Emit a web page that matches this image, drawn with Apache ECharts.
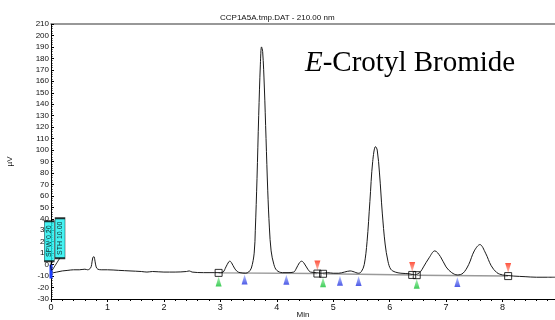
<!DOCTYPE html>
<html>
<head>
<meta charset="utf-8">
<script src="https://cdn.jsdelivr.net/npm/echarts@6/dist/echarts.min.js"></script>
<style>html,body{margin:0;padding:0;background:#fff}#c{width:555px;height:320px}</style>
</head>
<body>
<div id="c"></div>
<script>
// ---- data ----
var traceTime  = [0.00,0.05,0.10,0.20,0.30,0.40,0.50,0.60,0.65,0.70,0.72,0.74,0.76,0.78,0.80,0.83,0.90,1.00,1.20,1.40,1.60,1.70,1.80,2.00,2.20,2.40,2.45,2.50,2.70,2.90,3.00,3.05,3.10,3.15,3.17,3.20,3.25,3.30,3.35,3.45,3.50,3.55,3.60,3.62,3.65,3.68,3.71,3.73,3.75,3.78,3.81,3.84,3.87,3.90,3.95,4.00,4.10,4.20,4.30,4.35,4.40,4.44,4.48,4.55,4.60,4.70,4.80,4.90,5.00,5.10,5.20,5.30,5.35,5.45,5.50,5.55,5.60,5.65,5.70,5.75,5.78,5.82,5.87,5.92,5.97,6.02,6.10,6.20,6.35,6.45,6.50,6.55,6.60,6.70,6.80,6.90,7.00,7.10,7.20,7.30,7.40,7.50,7.60,7.70,7.80,7.90,8.00,8.10,8.20,8.40,8.60,8.80,8.93];
var traceValue = [-7.5,-7,-6.5,-5.5,-5,-4.5,-4.5,-4,-4.5,-3,0,6,7,3,-2,-4,-4.5,-4.5,-5,-5.5,-6,-6.5,-6,-6.5,-6.5,-6,-5.5,-6.5,-7,-7,-7,-6.5,-2,2.5,3,1.5,-3,-6,-7,-7.5,-6.5,-3,10,30,75,130,175,190,186,155,110,65,32,12,0,-5,-7,-7,-6.5,-3,1.5,3,1.5,-4,-6.5,-7,-7.5,-7,-7.5,-7.5,-6.5,-5.5,-6,-7.5,-6,0,20,55,90,103,100,80,45,18,3,-4,-6.5,-7.5,-8,-9,-8,-6,-2,6,12,7,-2,-7,-9,-7.5,0,12,17.5,10,-1,-7,-9,-9.5,-10,-10.5,-11,-11,-11];

var baselinePts = [[2.97,-7.2],[4.72,-7.8],null,[4.82,-8.0],[6.40,-9.0],null,[6.48,-9.2],[8.10,-10.0]];
var squarePts   = [[2.97,-7.2],[4.72,-7.8],[4.82,-8.0],[6.40,-9.0],[6.48,-9.2],[8.10,-10.0]];
var greenPts    = [[2.97,-7.2],[4.82,-8.0],[6.48,-9.2]];
var bluePts     = [[3.43,-7.4],[4.17,-7.6],[5.12,-8.4],[5.45,-8.6],[7.20,-9.5]];
var redPts      = [[4.72,-7.8],[6.40,-9.0],[8.10,-10.0]];
var flagLabels  = ['SPW 0.20','STH 10.00'];
var flagPts     = [[-0.03,20.5],[0.16,23]];
var startBar    = [[0,0],[0,-12]];

var chart = echarts.init(document.getElementById('c'), null, {renderer:'canvas'});
var F = 'Liberation Sans, Arial, sans-serif';

function triGrad(a, b){
  return new echarts.graphic.LinearGradient(0,0,0,1,[{offset:0,color:a},{offset:1,color:b}]);
}

chart.setOption({
  animation:false,
  backgroundColor:'#fff',
  title:[
    {text:'CCP1A5A.tmp.DAT - 210.00 nm', left:220, top:14, padding:0,
     textStyle:{fontFamily:F,fontSize:8,fontWeight:'normal',color:'#111'}},
    {text:'{i|E}-Crotyl Bromide', left:305, top:49, padding:0,
     textStyle:{fontFamily:'Liberation Serif, Times New Roman, serif',fontSize:29,fontWeight:'normal',color:'#000',
       rich:{i:{fontFamily:'Liberation Serif, Times New Roman, serif',fontSize:29,fontStyle:'italic',color:'#000'}}}}
  ],
  grid:{left:51,right:0,top:24,bottom:21,outerBoundsMode:'none',containLabel:false},
  xAxis:[{
    type:'value', min:0, max:8.93, interval:1,
    name:'Min', nameLocation:'middle', nameGap:12, nameMoveOverlap:false,
    nameTextStyle:{fontFamily:F,fontSize:8,color:'#111'},
    axisLine:{show:true,onZero:false,lineStyle:{color:'#000',width:1}},
    axisTick:{show:true,length:3,lineStyle:{color:'#000'}},
    minorTick:{show:true,splitNumber:5,length:2,lineStyle:{color:'#000'}},
    axisLabel:{fontFamily:F,fontSize:9,color:'#111',margin:4,showMaxLabel:false},
    splitLine:{show:false}
  },{
    type:'value', position:'top', min:0, max:8.93,
    axisLine:{show:true,onZero:false,lineStyle:{color:'#777',width:1.5}},
    axisTick:{show:false}, axisLabel:{show:false}, splitLine:{show:false}
  }],
  yAxis:{
    type:'value', min:-30, max:210, interval:10,
    name:'µV', nameLocation:'middle', nameGap:37, nameRotate:90, nameMoveOverlap:false,
    nameTextStyle:{fontFamily:F,fontSize:8,color:'#111'},
    axisLine:{show:true,onZero:false,lineStyle:{color:'#000',width:1}},
    axisTick:{show:true,length:3,inside:true,lineStyle:{color:'#000'}},
    minorTick:{show:true,splitNumber:5,length:1.5,lineStyle:{color:'#000'}},
    axisLabel:{fontFamily:F,fontSize:8,color:'#111',margin:2},
    splitLine:{show:false}
  },
  series:[
    {type:'line', data:baselinePts, symbol:'none', connectNulls:false,
     lineStyle:{color:'#9a9a9a',width:1.5}, z:2},
    {type:'line', data:traceTime.map(function(t,i){return [t,traceValue[i]];}),
     symbol:'none', smooth:0.35, lineStyle:{color:'#1a1a1a',width:1}, z:3},
    {type:'line', data:startBar, symbol:'none', lineStyle:{color:'#1a3cff',width:3}, z:4},
    {type:'line', data:[[flagPts[0][0],flagPts[0][1]-17],[0.01,-5]], symbol:'none', lineStyle:{color:'#000',width:0.8}, z:4},
    {type:'line', data:[[flagPts[1][0],flagPts[1][1]-17],[0.02,-5]], symbol:'none', lineStyle:{color:'#000',width:0.8}, z:4},
    {type:'scatter', data:squarePts, symbol:'rect', symbolSize:7,
     itemStyle:{color:'rgba(255,255,255,0)',borderColor:'#000',borderWidth:1}, z:6},
    {type:'scatter', data:greenPts, symbol:'triangle', symbolSize:[6,10], symbolOffset:[0,8.5],
     itemStyle:{color:triGrad('#9ff0a8','#10c030')}, z:5},
    {type:'scatter', data:bluePts, symbol:'triangle', symbolSize:[6,10], symbolOffset:[0,6.5],
     itemStyle:{color:triGrad('#a8b8ff','#2030e0')}, z:5},
    {type:'scatter', data:redPts, symbol:'triangle', symbolSize:[6,10], symbolRotate:180, symbolOffset:[0,-8],
     itemStyle:{color:triGrad('#ffb0a0','#ff2a10')}, z:5},
    {type:'scatter', clip:false, data:flagPts.map(function(p,i){return {value:p,name:flagLabels[i]};}),
     symbol:'rect', symbolSize:[10,40],
     itemStyle:{color:'#18f0f0',borderColor:'#000',borderWidth:1},
     label:{show:true,position:'inside',rotate:90,formatter:'{b}',fontFamily:F,fontSize:7,color:'#000'}, z:7}
  ]
});
</script>
</body>
</html>
